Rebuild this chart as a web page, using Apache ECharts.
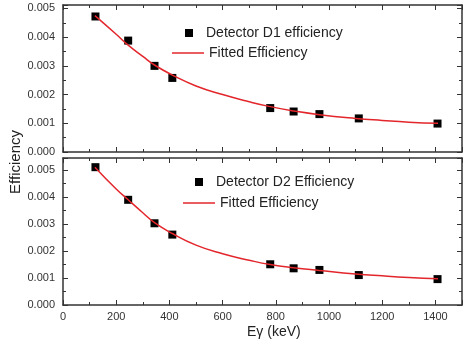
<!DOCTYPE html>
<html>
<head>
<meta charset="utf-8">
<script src="https://cdn.jsdelivr.net/npm/echarts@6/dist/echarts.min.js"></script>
<style>
  html, body { margin: 0; padding: 0; background: #fff; }
  #chart { width: 465px; height: 347px; }
</style>
</head>
<body>
<div id="chart"></div>
<script>
// gamma energies (keV) of the measured points
const energies = [122, 245, 344, 411, 779, 867, 964, 1112, 1408];
const d1Eff = [0.00472, 0.00388, 0.00300, 0.00258, 0.00153, 0.00141, 0.00132, 0.00117, 0.00099];
const d2Eff = [0.00511, 0.00390, 0.00303, 0.00261, 0.00151, 0.00136, 0.00130, 0.00111, 0.00096];

// fitted curves
const fitEnergies = [120, 200, 245, 300, 344, 411, 500, 600, 700, 779, 867, 964, 1100, 1200, 1300, 1410];
const d1Fit = [0.00475, 0.00410, 0.00372, 0.00333, 0.00303, 0.00268, 0.00230, 0.00200, 0.00175, 0.00158, 0.00143, 0.00130, 0.00117, 0.00110, 0.00104, 0.00100];
const d2Fit = [0.00511, 0.00430, 0.00390, 0.00342, 0.00305, 0.00265, 0.00222, 0.00190, 0.00166, 0.00150, 0.00138, 0.00128, 0.00115, 0.00108, 0.00102, 0.00097];

const font = 'Arial, "Liberation Sans", sans-serif';
const axisColor = '#333';
const red = '#e3262b';
// legend icons: the M points pad the box so the marks keep their size
const squareIcon = 'path://M0,0M24,8M8,0L16,0L16,8L8,8Z';
const lineIcon = 'path://M0,0M32,8M0,3.25L32,3.25L32,4.75L0,4.75Z';

function pairs(xs, ys) {
  return xs.map((x, i) => [x, ys[i]]);
}

function xAxes(gridIndex, showLabels) {
  const base = {
    type: 'value', gridIndex: gridIndex, min: 0, max: 1500, interval: 200,
    axisLine: { show: true, onZero: false, lineStyle: { color: axisColor, width: 1.5 } },
    axisTick: { show: true, inside: true, length: 5, lineStyle: { color: axisColor } },
    minorTick: { show: true, splitNumber: 2, length: 3, lineStyle: { color: axisColor } },
    splitLine: { show: false }
  };
  return [
    Object.assign({}, base, {
      position: 'bottom',
      axisLabel: {
        show: showLabels, color: '#333', fontSize: 11, fontFamily: font, margin: 6,
        showMaxLabel: false,
        formatter: v => String(v)
      }
    }),
    Object.assign({}, base, { position: 'top', axisLabel: { show: false } })
  ];
}

function yAxes(gridIndex, max) {
  const base = {
    type: 'value', gridIndex: gridIndex, min: 0, max: max, interval: 0.001,
    axisLine: { show: true, onZero: false, lineStyle: { color: axisColor, width: 1.5 } },
    axisTick: { show: true, inside: true, length: 5, lineStyle: { color: axisColor } },
    minorTick: { show: true, splitNumber: 2, length: 3, lineStyle: { color: axisColor } },
    splitLine: { show: false }
  };
  return [
    Object.assign({}, base, {
      position: 'left',
      axisLabel: {
        color: '#333', fontSize: 11, fontFamily: font, margin: 8,
        showMaxLabel: false,
        formatter: v => v.toFixed(3)
      }
    }),
    Object.assign({}, base, { position: 'right', axisLabel: { show: false } })
  ];
}

const legendText = { color: '#222', fontSize: 14, fontFamily: font };

const chart = echarts.init(document.getElementById('chart'), null, { renderer: 'canvas' });

chart.setOption({
  animation: false,
  backgroundColor: '#fff',
  grid: [
    { left: 63, right: 3, top: 5, height: 147 },
    { left: 63, right: 3, top: 158, height: 147 }
  ],
  xAxis: xAxes(0, false).concat(xAxes(1, true)),
  yAxis: yAxes(0, 0.00512).concat(yAxes(1, 0.00545)),
  legend: [
    {
      data: [{ name: 'Detector D1 efficiency', icon: squareIcon }],
      left: 177, top: 26, padding: 0, itemWidth: 24, itemHeight: 8,
      textStyle: legendText, selectedMode: false
    },
    {
      data: [{ name: 'Fitted Efficiency', icon: lineIcon }],
      left: 172, top: 46, padding: 0, itemWidth: 32, itemHeight: 8,
      textStyle: legendText, selectedMode: false
    },
    {
      data: [{ name: 'Detector D2 Efficiency', icon: squareIcon }],
      left: 187, top: 175, padding: 0, itemWidth: 24, itemHeight: 8,
      textStyle: legendText, selectedMode: false
    },
    {
      data: [{ name: 'Fitted Efficiency', icon: lineIcon }],
      left: 183, top: 196, padding: 0, itemWidth: 32, itemHeight: 8,
      textStyle: legendText, selectedMode: false
    }
  ],
  graphic: [
    {
      type: 'text', left: 8, top: 130, rotation: Math.PI / 2,
      style: { text: 'Efficiency', fill: '#222', font: '15px ' + font }
    },
    {
      type: 'text', left: 247, top: 325,
      style: { text: 'E\u03b3 (keV)', fill: '#222', font: '14px ' + font }
    }
  ],
  series: [
    {
      name: 'Fitted Efficiency', type: 'line', xAxisIndex: 0, yAxisIndex: 0,
      data: pairs(fitEnergies, d1Fit), smooth: true, symbol: 'none',
      lineStyle: { color: red, width: 1.5 }, itemStyle: { color: red }
    },
    {
      name: 'Detector D1 efficiency', type: 'scatter', xAxisIndex: 0, yAxisIndex: 0,
      data: pairs(energies, d1Eff), symbol: 'rect', symbolSize: 8,
      itemStyle: { color: '#000', opacity: 1 }
    },
    {
      name: 'Fitted Efficiency', type: 'line', xAxisIndex: 2, yAxisIndex: 2,
      data: pairs(fitEnergies, d2Fit), smooth: true, symbol: 'none',
      lineStyle: { color: red, width: 1.5 }, itemStyle: { color: red }
    },
    {
      name: 'Detector D2 Efficiency', type: 'scatter', xAxisIndex: 2, yAxisIndex: 2,
      data: pairs(energies, d2Eff), symbol: 'rect', symbolSize: 8,
      itemStyle: { color: '#000', opacity: 1 }
    }
  ]
});
</script>
</body>
</html>
